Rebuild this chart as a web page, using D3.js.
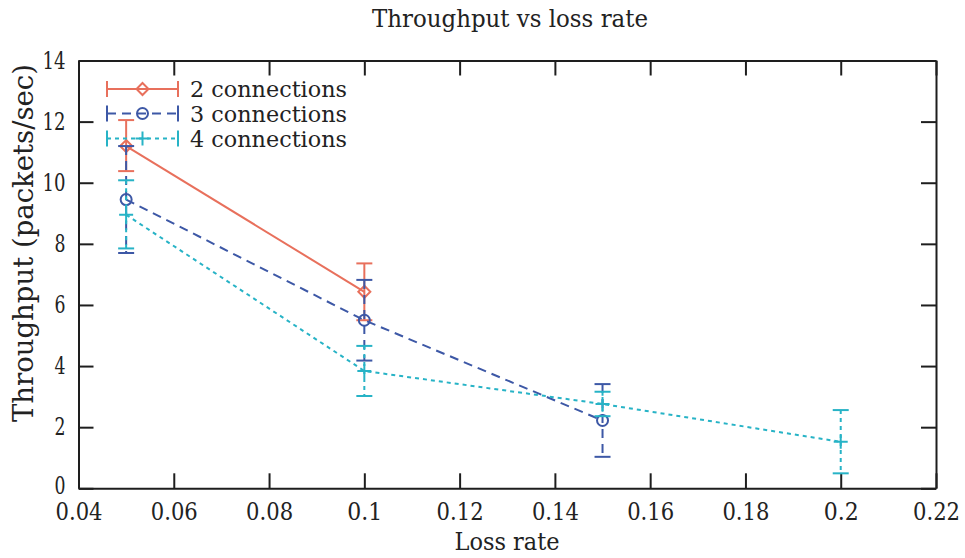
<!DOCTYPE html>
<html>
<head>
<meta charset="utf-8">
<script src="https://cdn.jsdelivr.net/npm/d3@7"></script>
<style>
  html, body { margin: 0; padding: 0; background: #fff; }
  svg { display: block; }
  text { font-family: "DejaVu Serif", "Liberation Serif", "Times New Roman", serif; fill: #222; }
</style>
</head>
<body>
<svg id="chart" width="965" height="558"></svg>
<script>
// ---- data ----
const chartTitle = "Throughput vs loss rate";
const xLabel = "Loss rate";
const yLabel = "Throughput (packets/sec)";
const xTicks = [0.04, 0.06, 0.08, 0.10, 0.12, 0.14, 0.16, 0.18, 0.20, 0.22];
const xTickLabels = ["0.04", "0.06", "0.08", "0.1", "0.12", "0.14", "0.16", "0.18", "0.2", "0.22"];
const yTicks = [0, 2, 4, 6, 8, 10, 12, 14];
const seriesNames = ["2 connections", "3 connections", "4 connections"];

const loss2 = [0.05, 0.10];
const thr2 = [11.2, 6.43];
const low2 = [10.38, 5.5];
const high2 = [12.05, 7.36];

const loss3 = [0.05, 0.10, 0.15];
const thr3 = [9.45, 5.5, 2.22];
const low3 = [7.7, 4.18, 1.03];
const high3 = [11.2, 6.82, 3.41];

const loss4 = [0.05, 0.10, 0.15, 0.20];
const thr4 = [8.95, 3.84, 2.76, 1.52];
const low4 = [7.85, 3.02, 2.36, 0.49];
const high4 = [10.08, 4.66, 3.16, 2.56];

// ---- styles ----
const FONT = '"DejaVu Serif", "Liberation Serif", "Times New Roman", serif';
const colors = ["#e8705c", "#3d58a6", "#27b3c6"];
const dashes = [null, "9,6", "4,4"];
const markers = ["diamond", "circle", "plus"];

const series = [
  { name: seriesNames[0], x: loss2, y: thr2, lo: low2, hi: high2 },
  { name: seriesNames[1], x: loss3, y: thr3, lo: low3, hi: high3 },
  { name: seriesNames[2], x: loss4, y: thr4, lo: low4, hi: high4 }
];

const svg = d3.select("#chart");
const L = 78.5, R = 936, T = 60.5, B = 488.3;
const x = d3.scaleLinear().domain([0.04, 0.22]).range([L, R]);
const y = d3.scaleLinear().domain([0, 14]).range([B, T]);
const ink = "#1e1e1e";

// axes (inward ticks on all sides)
const fmtX = d => xTickLabels[xTicks.findIndex(v => Math.abs(v - d) < 1e-9)];
const gB = svg.append("g").attr("transform", `translate(0,${B})`)
  .call(d3.axisBottom(x).tickValues(xTicks).tickFormat(fmtX).tickSizeInner(-15).tickSizeOuter(0).tickPadding(15));
const gT = svg.append("g").attr("transform", `translate(0,${T})`)
  .call(d3.axisTop(x).tickValues(xTicks).tickFormat("").tickSizeInner(-15).tickSizeOuter(0));
const gL = svg.append("g").attr("transform", `translate(${L},0)`)
  .call(d3.axisLeft(y).tickValues(yTicks).tickFormat(d3.format("d")).tickSizeInner(-15).tickSizeOuter(0).tickPadding(13));
const gR = svg.append("g").attr("transform", `translate(${R},0)`)
  .call(d3.axisRight(y).tickValues(yTicks).tickFormat("").tickSizeInner(-15).tickSizeOuter(0));
[gB, gT, gL, gR].forEach(g => {
  g.attr("font-family", FONT);
  g.selectAll(".domain").attr("stroke", ink).attr("stroke-width", 2);
  g.selectAll(".tick line").attr("stroke", ink).attr("stroke-width", 2);
  g.selectAll("text").style("font-family", FONT).style("font-size", "24px").attr("fill", ink);
});
gB.selectAll(".tick text").each(function () {
  const t = d3.select(this);
  const n = t.text().length;
  t.attr("textLength", n === 4 ? 47 : 35).attr("lengthAdjust", "spacingAndGlyphs");
});
gL.selectAll(".tick text").each(function () {
  const t = d3.select(this);
  t.attr("textLength", t.text().length === 2 ? 23 : 11).attr("lengthAdjust", "spacingAndGlyphs");
});
gL.selectAll(".tick").filter(d => d === 0).select("text").attr("dy", "0.2em");

// titles
svg.append("text").attr("x", 510).attr("y", 27).attr("text-anchor", "middle")
  .style("font-size", "24px").attr("textLength", 276).attr("lengthAdjust", "spacingAndGlyphs").text(chartTitle);
svg.append("text").attr("x", 507).attr("y", 550).attr("text-anchor", "middle")
  .style("font-size", "24px").attr("textLength", 105).attr("lengthAdjust", "spacingAndGlyphs").text(xLabel);
svg.append("text").attr("transform", "translate(33,243) rotate(-90)").attr("text-anchor", "middle")
  .style("font-size", "28px").attr("textLength", 358).attr("lengthAdjust", "spacingAndGlyphs").text(yLabel);

function drawMarker(g, type, cx, cy, color) {
  if (type === "diamond") {
    g.append("path").attr("d", `M${cx},${cy - 6}L${cx + 6},${cy}L${cx},${cy + 6}L${cx - 6},${cy}Z`)
      .attr("fill", "none").attr("stroke", color).attr("stroke-width", 2);
  } else if (type === "circle") {
    g.append("circle").attr("cx", cx).attr("cy", cy).attr("r", 5.5)
      .attr("fill", "none").attr("stroke", color).attr("stroke-width", 2);
  } else {
    g.append("path").attr("d", `M${cx - 7},${cy}H${cx + 7}M${cx},${cy - 7}V${cy + 7}`)
      .attr("stroke", color).attr("stroke-width", 2);
  }
}

const line = d3.line().x(d => x(d[0])).y(d => y(d[1]));
const cap = 8;

series.forEach((s, i) => {
  const g = svg.append("g");
  const pts = s.x.map((v, k) => [v, s.y[k]]);
  g.append("path").attr("d", line(pts)).attr("fill", "none")
    .attr("stroke", colors[i]).attr("stroke-width", 2)
    .attr("stroke-dasharray", dashes[i]);
  s.x.forEach((v, k) => {
    const cx = x(v), yl = y(s.lo[k]), yh = y(s.hi[k]);
    g.append("line").attr("x1", cx).attr("x2", cx).attr("y1", yh).attr("y2", yl)
      .attr("stroke", colors[i]).attr("stroke-width", 2).attr("stroke-dasharray", dashes[i]);
    [yl, yh].forEach(cy => {
      g.append("line").attr("x1", cx - cap).attr("x2", cx + cap).attr("y1", cy).attr("y2", cy)
        .attr("stroke", colors[i]).attr("stroke-width", 2);
    });
    drawMarker(g, markers[i], cx, y(s.y[k]), colors[i]);
  });
});

// legend
const legRows = [89, 113.5, 138.5];
series.forEach((s, i) => {
  const g = svg.append("g");
  const yy = legRows[i], x1 = 107, x2 = 178, xm = 142.5;
  g.append("line").attr("x1", x1).attr("x2", x2).attr("y1", yy).attr("y2", yy)
    .attr("stroke", colors[i]).attr("stroke-width", 2).attr("stroke-dasharray", dashes[i]);
  [x1, x2].forEach(cx => g.append("line").attr("x1", cx).attr("x2", cx)
    .attr("y1", yy - cap).attr("y2", yy + cap).attr("stroke", colors[i]).attr("stroke-width", 2));
  drawMarker(g, markers[i], xm, yy, colors[i]);
  g.append("text").attr("x", 190).attr("y", yy + 8)
    .style("font-size", "22px").attr("textLength", 157).attr("lengthAdjust", "spacingAndGlyphs").text(s.name);
});
</script>
</body>
</html>
